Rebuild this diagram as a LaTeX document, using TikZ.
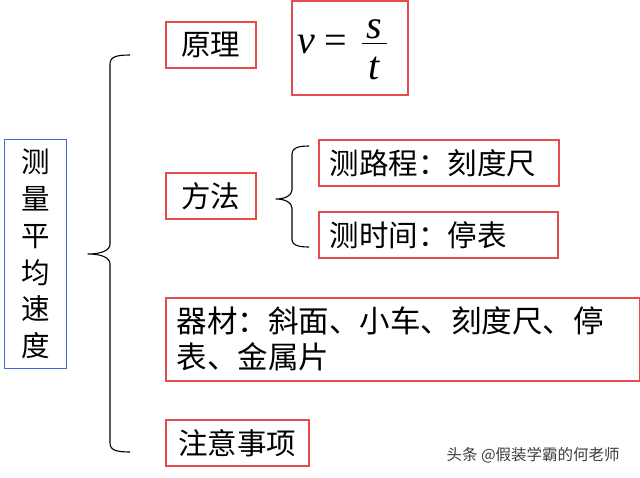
\RequirePackage{fix-cm}
\documentclass[tikz,border=0pt]{standalone}
\usepackage{amsmath}
\usepackage{fontspec}
\newfontfamily\cjk{Noto Sans CJK SC}
\newfontfamily\tms{Liberation Serif}
\definecolor{boxred}{RGB}{230,76,76}
\definecolor{boxblue}{RGB}{72,104,214}
\definecolor{wmgray}{RGB}{60,60,60}
\begin{document}
\begin{tikzpicture}[x=1pt,y=-1pt,
  redbox/.style={draw=boxred,line width=1.6pt,inner sep=0pt,anchor=north west,
    font=\cjk\fontsize{29.5}{34}\selectfont},
  leftbox/.style={redbox,align=left,inner xsep=11pt},
  bluebox/.style={draw=boxblue,line width=1.1pt,inner sep=0pt,anchor=north west,align=center,
    font=\cjk\fontsize{28.5}{36.8}\selectfont},
  bracepath/.style={draw=black,line width=1.1pt,line join=round},
  wm/.style={text=wmgray,font=\cjk\fontsize{15.5}{18}\selectfont}]
\useasboundingbox (0,0) rectangle (640,477);

% left title
\node[bluebox,minimum width=62,minimum height=229] (title) at (4,139) {测\\量\\平\\均\\速\\度};

% level-1 boxes
\node[redbox,minimum width=90,minimum height=46] (yuanli) at (165,21) {原理};
\node[redbox,minimum width=116,text height=53,text depth=41,
  font=\tms\fontsize{40}{44}\selectfont] (formula) at (291,0)
  {{\itshape v}\rule{10pt}{0pt}=\rule{13pt}{0pt}$\frac{\hspace{5pt}\mbox{\itshape s}\hspace{5pt}}{\mbox{\rule{0pt}{34.5pt}\itshape t}}$\rule{14pt}{0pt}};
\node[redbox,minimum width=90,minimum height=46] (fangfa) at (165,172) {方法};
\node[leftbox,minimum width=240,minimum height=46,text width=218] (lucheng) at (318,139) {测路程：刻度尺};
\node[leftbox,minimum width=239,minimum height=46,text width=217] (shijian) at (318,211) {测时间：停表};
\node[leftbox,minimum width=474,minimum height=83,text width=452,font=\cjk\fontsize{30.5}{36}\selectfont] (qicai) at (165,297) {器材：斜面、小车、刻度尺、停\\表、金属片};
\node[redbox,minimum width=143,minimum height=46] (zhuyi) at (165,419) {注意事项};

% big brace
\coordinate (bt) at (130,55);
\coordinate (bb) at (130,452);
\coordinate (btip) at (88,254);
\draw[bracepath] (bt) .. controls (116,55) and (110,57) .. (110,64)
  -- (110,244) .. controls (110,251) and (100,254) .. (btip)
  .. controls (100,254) and (110,257) .. (110,264)
  -- (110,443) .. controls (110,450) and (116,452) .. (bb);

% small brace
\coordinate (st) at (309,146);
\coordinate (sb) at (309,247);
\coordinate (stip) at (276,199);
\draw[bracepath] (st) .. controls (298,146) and (292,148) .. (292,154)
  -- (292,190) .. controls (292,196) and (284,199) .. (stip)
  .. controls (284,199) and (292,202) .. (292,208)
  -- (292,240) .. controls (292,245) and (298,247) .. (sb);

% watermark
\node[wm,anchor=west] (mark) at (443,455) {头条 @假装学霸的何老师};
\end{tikzpicture}
\end{document}
